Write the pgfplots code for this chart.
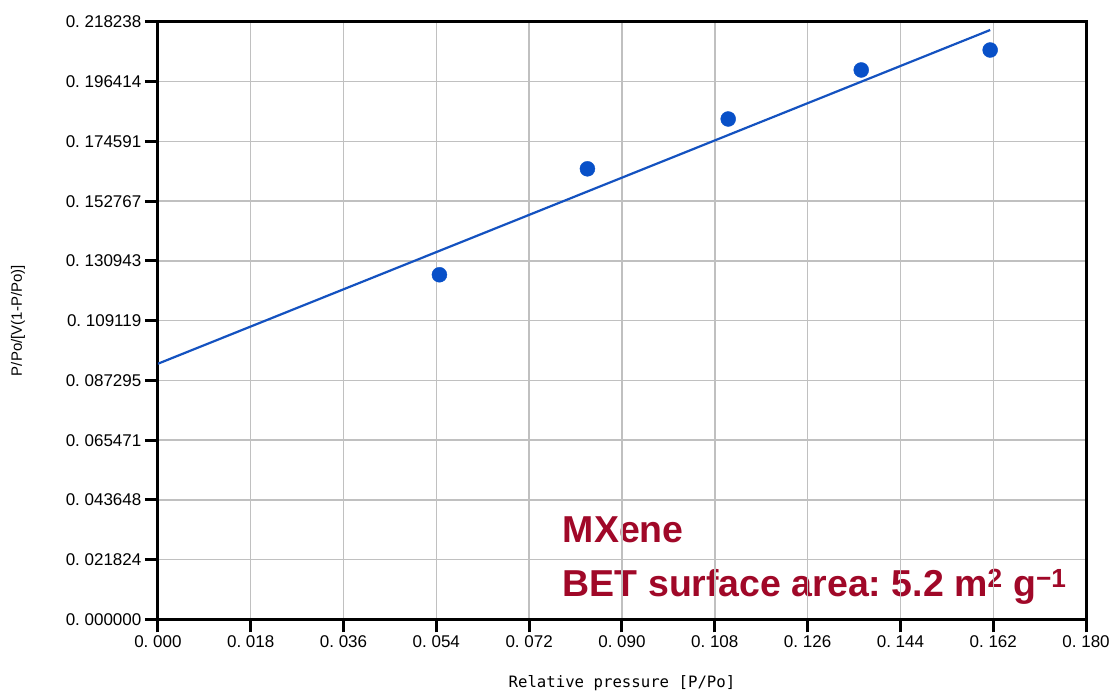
\documentclass[border=0pt]{standalone}
\usepackage{fontspec}
\setmainfont{Liberation Sans}
\newfontfamily\labfont{DejaVu Sans Mono}
\usepackage{pgfplots}
\pgfplotsset{compat=1.18}

\definecolor{dotblue}{RGB}{8,80,200}
\definecolor{lineblue}{RGB}{20,82,192}
\definecolor{txtred}{RGB}{160,8,40}
\definecolor{gridgray}{RGB}{192,192,192}

\begin{document}
\frenchspacing
\begin{tikzpicture}
\begin{axis}[
  name=ax,
  set layers=standard,
  scale only axis,
  width=929pt, height=598pt,
  xmin=0, xmax=0.18,
  ymin=0, ymax=0.218238,
  xtick={0,0.018,0.036,0.054,0.072,0.090,0.108,0.126,0.144,0.162,0.180},
  xticklabels={0.\ 000,0.\ 018,0.\ 036,0.\ 054,0.\ 072,0.\ 090,0.\ 108,0.\ 126,0.\ 144,0.\ 162,0.\ 180},
  ytick={0,0.021824,0.043648,0.065471,0.087295,0.109119,0.130943,0.152767,0.174591,0.196414,0.218238},
  yticklabels={0.\ 000000,0.\ 021824,0.\ 043648,0.\ 065471,0.\ 087295,0.\ 109119,0.\ 130943,0.\ 152767,0.\ 174591,0.\ 196414,0.\ 218238},
  tick label style={font=\fontsize{17}{20}\selectfont},
  tick align=outside,
  major tick length=13pt,
  tick style={black, line width=3pt},
  xtick pos=bottom, ytick pos=left,
  axis line style={black, line width=3pt},
  grid=major,
  grid style={gridgray, line width=1.5pt},
  xlabel={Relative pressure [P/Po]},
  ylabel={P/Po/[V(1-P/Po)]},
  every axis x label/.style={at={(rel axis cs:0.5,0)}, anchor=base, yshift=-68pt,
    font=\labfont\fontsize{15.7}{18}\selectfont},
  every axis y label/.style={at={(rel axis cs:0,0.5)}, xshift=-140pt, rotate=90, anchor=center,
    font=\fontsize{15}{17}\selectfont},
]
\begin{pgfonlayer}{axis background}
\node[anchor=base west, text=txtred, font=\bfseries\fontsize{37.5}{40}\selectfont, inner sep=0pt]
  at (axis cs:0.0785,0.0281) {MXene};
\node[anchor=base west, text=txtred, font=\bfseries\fontsize{37.5}{40}\selectfont, inner sep=0pt]
  at (axis cs:0.0785,0.0084) {BET surface area: 5.2 m\textsuperscript{2} g\textsuperscript{−1}};
\end{pgfonlayer}
\addplot[lineblue, line width=2.2pt] coordinates {(0,0.0934) (0.1614,0.2153)};
\addplot[only marks, mark=*, mark size=7.5pt, color=dotblue, mark options={draw=none, fill=dotblue}]
  coordinates {
  (0.0546,0.1259)
  (0.0833,0.1646)
  (0.1106,0.1828)
  (0.1364,0.2007)
  (0.1614,0.2080)
};
\end{axis}
\path ([xshift=-158pt,yshift=-73pt]ax.south west) rectangle ([xshift=26pt,yshift=22pt]ax.north east);
\end{tikzpicture}
\end{document}
